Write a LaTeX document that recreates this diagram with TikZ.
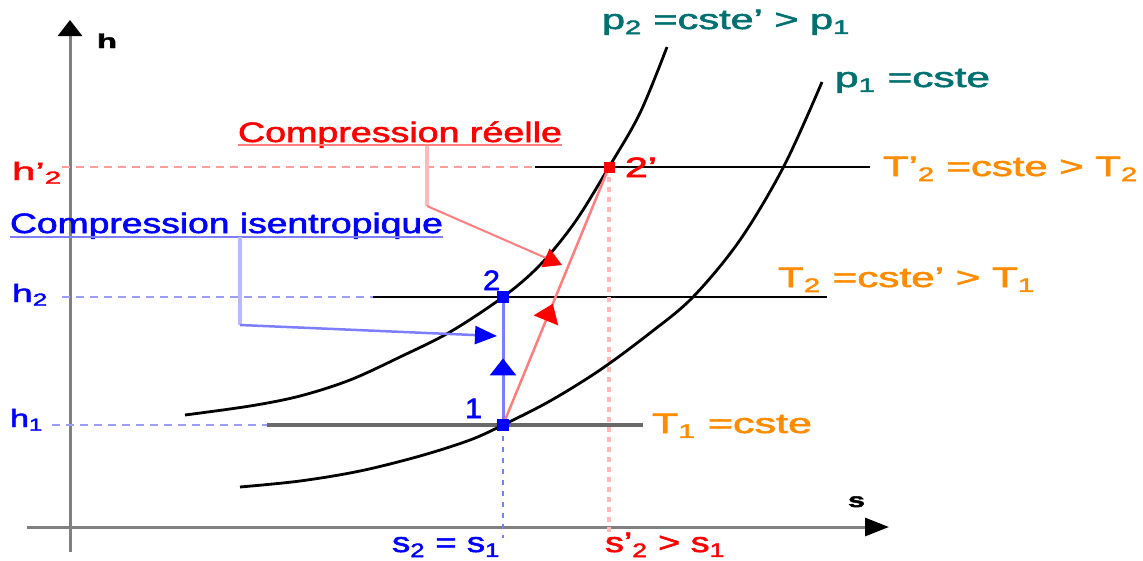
\documentclass[tikz,border=0pt]{standalone}
\usepackage{fontspec}
\setmainfont[FakeBold=1.8]{Liberation Sans}
\usepackage{graphicx}
\usetikzlibrary{arrows.meta,decorations.markings}
\definecolor{cteal}{RGB}{0,112,112}
\definecolor{corange}{RGB}{255,140,0}
\definecolor{cblue}{RGB}{0,0,255}
\definecolor{cred}{RGB}{255,0,0}
\definecolor{lblue}{RGB}{125,125,255}
\definecolor{lred}{RGB}{255,125,125}
\definecolor{pblue}{RGB}{185,185,255}
\definecolor{pred}{RGB}{255,185,185}
\definecolor{axgray}{RGB}{128,128,128}
\definecolor{t1gray}{RGB}{105,105,105}
\newcommand{\fw}[2]{\resizebox{#1pt}{\height}{#2}}
\begin{document}
\begin{tikzpicture}[x=1pt,y=-1pt,
  lbl/.style={anchor=base west, inner sep=0pt, outer sep=0pt, font=\fontsize{28}{32}\selectfont},
  hlbl/.style={lbl, font=\fontsize{25}{28}\selectfont},
  smalllbl/.style={lbl, font=\fontsize{20}{24}\selectfont\bfseries},
  axisline/.style={draw=axgray, line width=3pt},
  pcurve/.style={draw=black, line width=2.8pt},
  isoline/.style={draw=black, line width=2.8pt},
  hdashblue/.style={draw=lblue!75, line width=2.5pt, dash pattern=on 8pt off 6pt},
  hdashred/.style={draw=lred!75, line width=2.5pt, dash pattern=on 8pt off 6pt},
  vdotblue/.style={draw=lblue, line width=2.5pt, dash pattern=on 5pt off 6pt},
  vdotred/.style={draw=pred, line width=3.5pt, dash pattern=on 5pt off 5pt},
  bluesq/.style={rectangle, fill=cblue, minimum size=12pt, inner sep=0pt},
  redsq/.style={rectangle, fill=cred, minimum size=12pt, inner sep=0pt},
  bluemid/.style={postaction={decorate}, decoration={markings, mark=at position 0.52 with {\arrow[cblue]{Triangle[length=17pt,width=26pt]}}}},
  redmid/.style={postaction={decorate}, decoration={markings, mark=at position 0.47 with {\arrow[cred]{Triangle[length=18pt,width=26pt]}}}}
]
\useasboundingbox (0,0) rectangle (1143,560);

% key points
\coordinate (P1) at (503,425);
\coordinate (P2) at (503,297);
\coordinate (P2p) at (609,167);

% axes
\coordinate (yb) at (70,552);
\coordinate (yt) at (70,20);
\coordinate (xl) at (27,527);
\coordinate (xr) at (889,527);
\draw[axisline, -{Triangle[length=16pt,width=24pt,fill=black,color=black]}] (yb) -- (yt);
\draw[axisline, -{Triangle[length=24pt,width=18pt,fill=black,color=black]}] (xl) -- (xr);
\node[smalllbl] (hax) at (97,48) {\fw{20}{h}};
\node[smalllbl] (sax) at (848,507) {\fw{17}{s}};

% isotherm lines
\coordinate (T1a) at (267,425);
\coordinate (T1b) at (643,425);
\coordinate (T2a) at (373,297);
\coordinate (T2b) at (827,297);
\coordinate (T3a) at (535,167);
\coordinate (T3b) at (870,167);
\draw[draw=t1gray, line width=3.5pt] (T1a) -- (T1b);
\draw[isoline] (T2a) -- (T2b);
\draw[isoline] (T3a) -- (T3b);

% dashed level lines
\coordinate (h1d) at (52,425);
\coordinate (h2d) at (62,297);
\coordinate (h3d) at (62,167);
\draw[hdashblue] (h1d) -- (T1a);
\draw[hdashblue] (h2d) -- (T2a);
\draw[hdashred] (h3d) -- (T3a);

% vertical dotted lines
\coordinate (s1b) at (503,538);
\coordinate (s2b) at (609,545);
\draw[vdotblue] (P1) -- (s1b);
\draw[vdotred] (P2p) -- (s2b);

% isobars
\draw[pcurve] plot[smooth, tension=0.55] coordinates {(185,415) (250,406) (300,396) (350,380) (400,357) (450,332) (503,297) (540,265) (575,222) (609,167) (640,113) (667,47)};
\draw[pcurve] plot[smooth, tension=0.55] coordinates {(240,487) (300,481) (360,471) (420,456) (470,440) (503,425) (550,401) (600,370) (650,333) (693,297) (740,240) (784,166) (822,82)};

% compressions
\draw[draw=lblue, line width=3pt, bluemid] (P1) -- (P2);
\draw[draw=lred, line width=2.5pt, redmid] (P1) -- (P2p);

\node[bluesq] (m1) at (P1) {};
\node[bluesq] (m2) at (P2) {};
\node[redsq, minimum size=11pt] (m2p) at (P2p) {};

% point labels
\node[lbl, text=cblue] (l1) at (465,418) {\fw{17}{1}};
\node[lbl, text=cblue] (l2) at (483,290) {\fw{17}{2}};
\node[lbl, text=cred] (l2p) at (625,177) {\fw{32}{2'}};

% h labels
\node[hlbl, text=cred] (hh3) at (12,180) {\fw{50}{h'\textsubscript{2}}};
\node[hlbl, text=cblue] (hh2) at (12,302) {\fw{36}{h\textsubscript{2}}};
\node[hlbl, text=cblue] (hh1) at (10,427) {\fw{33}{h\textsubscript{1}}};

% s labels
\node[lbl, text=cblue] (ss1) at (392,552) {\fw{108}{s\textsubscript{2} = s\textsubscript{1}}};
\node[lbl, text=cred] (ss2) at (605,552) {\fw{120}{s'\textsubscript{2} > s\textsubscript{1}}};

% curve labels
\node[lbl, text=cteal] (pp2) at (602,29) {\fw{248}{p\textsubscript{2} =cste' > p\textsubscript{1}}};
\node[lbl, text=cteal] (pp1) at (835,87) {\fw{155}{p\textsubscript{1} =cste}};
\node[lbl, text=corange] (tt3) at (883,176) {\fw{255}{T'\textsubscript{2} =cste > T\textsubscript{2}}};
\node[lbl, text=corange] (tt2) at (778,287) {\fw{257}{T\textsubscript{2} =cste' > T\textsubscript{1}}};
\node[lbl, text=corange] (tt1) at (652,433) {\fw{160}{T\textsubscript{1} =cste}};

% annotations
\node[lbl, text=cred] (creel) at (238,142) {\fw{324}{Compression réelle}};
\node[lbl, text=cblue] (cisen) at (10,233) {\fw{433}{Compression isentropique}};
\draw[draw=lred, line width=2pt] ([yshift=-3pt]creel.base west) -- ([yshift=-3pt]creel.base east);
\draw[draw=lblue, line width=2pt] ([yshift=-4pt]cisen.base west) -- ([yshift=-4pt]cisen.base east);

\coordinate (rl0) at (427,146);
\coordinate (rl1) at (427,206);
\coordinate (rl2) at (562,265);
\draw[draw=pred, line width=4pt] (rl0) -- (rl1);
\draw[draw=lred, line width=2pt, -{Triangle[length=18pt,width=20pt,color=cred]}] (rl1) -- (rl2);

\coordinate (bl0) at (240,237);
\coordinate (bl1) at (240,325);
\coordinate (bl2) at (497,336);
\draw[draw=pblue, line width=4pt] (bl0) -- (bl1);
\draw[draw=lblue, line width=2.5pt, -{Triangle[length=22pt,width=18pt,color=cblue]}] (bl1) -- (bl2);
\end{tikzpicture}
\end{document}
